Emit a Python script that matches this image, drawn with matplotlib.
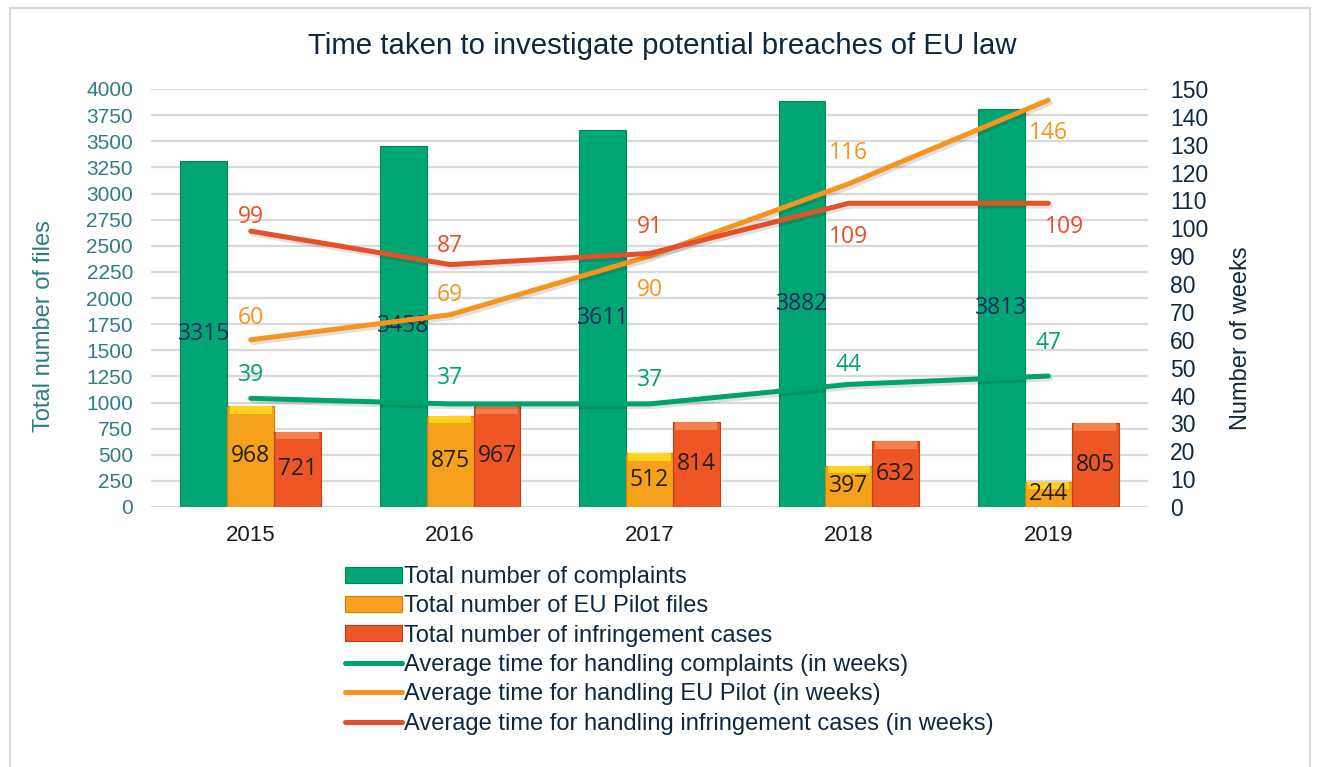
import numpy as np
import matplotlib
matplotlib.use("Agg")
import matplotlib.pyplot as plt
import matplotlib.patheffects as pe
from matplotlib.patches import Rectangle

# data
years = ["2015", "2016", "2017", "2018", "2019"]
complaints = [3315, 3458, 3611, 3882, 3813]
eu_pilot = [968, 875, 512, 397, 244]
infringements = [721, 967, 814, 632, 805]
weeks_complaints = [39, 37, 37, 44, 47]
weeks_pilot = [60, 69, 90, 116, 146]
weeks_infringements = [99, 87, 91, 109, 109]

# label offsets (pixels) relative to each line point: (dx, dy), dy>0 = up
off_complaints = [(0, 23), (0, 26), (0, 24), (0, 19), (0, 33)]
off_pilot = [(0, 22), (0, 20), (0, -34), (0, 31), (0, -33)]
off_infr = [(0, 14), (0, 19), (0, 26), (0, -34), (16, -24)]

navy = "#0E2841"
teal = "#2F7C86"
c_green, c_green_d = "#00A673", "#00875C"
c_orange, c_orange_top = "#F6A11B", "#FFD31E"
c_red, c_red_top = "#EE5623", "#F5804A"
l_green, l_orange, l_red = "#00A36C", "#F7941D", "#E4502A"

plt.rcParams["font.family"] = ["Liberation Sans", "DejaVu Sans"]
lab_font = ["Open Sans", "DejaVu Sans"]

fig = plt.figure(figsize=(13.18, 7.67), dpi=100)
fig.patches.append(Rectangle((10 / 1318, -0.05), 1300 / 1318, 1.05 - 8 / 767,
                             transform=fig.transFigure, fill=False,
                             edgecolor="#d9d9d9", linewidth=1.5))

ax = fig.add_axes([151 / 1318, 1 - 507 / 767, (1148 - 151) / 1318, (507 - 89) / 767])
ax2 = ax.twinx()

x = np.arange(len(years))
w = 0.235

ax.set_ylim(0, 4000)
ax.set_yticks(np.arange(0, 4001, 250))
ax.set_xlim(-0.5, len(years) - 0.5)
ax.grid(axis="y", color="#d9d9d9", linewidth=1.6)
ax.set_axisbelow(True)

cap = 75  # bevel height on the top of the bars, in axis units
b1 = ax.bar(x - w, complaints, w, color=c_green, edgecolor=c_green_d, linewidth=0.8, zorder=2)
b2 = ax.bar(x, eu_pilot, w, color=c_orange, edgecolor="#C9800F", linewidth=0.8, zorder=2)
b3 = ax.bar(x + w, infringements, w, color=c_red, edgecolor="#B8401A", linewidth=0.8, zorder=2)
ax.bar(x, [cap] * len(x), w * 0.9, bottom=np.array(eu_pilot) - cap, color=c_orange_top, zorder=2)
ax.bar(x + w, [cap] * len(x), w * 0.9, bottom=np.array(infringements) - cap, color=c_red_top, zorder=2)

for i in range(len(x)):
    ax.text(x[i] - w, complaints[i] / 2, str(complaints[i]), ha="center", va="center",
            fontsize=16.5, color="#1B2A5C", family=lab_font, zorder=5)
    ax.text(x[i], eu_pilot[i] / 2, str(eu_pilot[i]), ha="center", va="center",
            fontsize=16.5, color="#231F20", family=lab_font, zorder=5)
    ax.text(x[i] + w, infringements[i] / 2, str(infringements[i]), ha="center", va="center",
            fontsize=16.5, color="#231F20", family=lab_font, zorder=5)

ax.tick_params(axis="y", colors=teal, labelsize=15, length=0, pad=13)
ax.tick_params(axis="x", colors="#1a1a1a", labelsize=16, length=0, pad=13)
ax.set_xticks(x)
ax.set_xticklabels(years)
ax.set_ylabel("Total number of files", fontsize=17, color=teal)
ax.yaxis.set_label_coords(-0.096, 0.433)
for s in ax.spines.values():
    s.set_visible(False)

ax2.set_ylim(0, 150)
ax2.set_yticks(np.arange(0, 151, 10))
ax2.tick_params(axis="y", colors=navy, labelsize=16.5, length=0, pad=16)
ax2.set_ylabel("Number of weeks", fontsize=17, color=navy)
ax2.yaxis.set_label_coords(1.082, 0.404)
for s in ax2.spines.values():
    s.set_visible(False)

shadow = [pe.SimpleLineShadow(offset=(1.5, -2), alpha=0.12), pe.Normal()]
l1, = ax2.plot(x, weeks_complaints, color=l_green, linewidth=3.6, solid_capstyle="round",
               path_effects=shadow, zorder=4)
l2, = ax2.plot(x, weeks_pilot, color=l_orange, linewidth=3.6, solid_capstyle="round",
               path_effects=shadow, zorder=4)
l3, = ax2.plot(x, weeks_infringements, color=l_red, linewidth=3.6, solid_capstyle="round",
               path_effects=shadow, zorder=4)

for vals, offs, col in [(weeks_complaints, off_complaints, l_green),
                        (weeks_pilot, off_pilot, l_orange),
                        (weeks_infringements, off_infr, l_red)]:
    for i, v in enumerate(vals):
        dx, dy = offs[i]
        ax2.annotate(str(v), (x[i], v), xytext=(dx * 0.72, dy * 0.72),
                     textcoords="offset points", ha="center", va="center",
                     fontsize=16.5, color=col, family=lab_font, zorder=6)

# legend uses plain line handles (no shadow)
h4, = ax2.plot([], [], color=l_green, linewidth=3.6, solid_capstyle="round")
h5, = ax2.plot([], [], color=l_orange, linewidth=3.6, solid_capstyle="round")
h6, = ax2.plot([], [], color=l_red, linewidth=3.6, solid_capstyle="round")
handles = [b1, b2, b3, h4, h5, h6]
labels = ["Total number of complaints", "Total number of EU Pilot files",
          "Total number of infringement cases",
          "Average time for handling complaints (in weeks)",
          "Average time for handling EU Pilot (in weeks)",
          "Average time for handling infringement cases (in weeks)"]
leg = fig.legend(handles, labels, loc="upper left", bbox_to_anchor=(345 / 1318, 1 - 566 / 767),
                 frameon=False, fontsize=17, handlelength=2.4, handleheight=0.65,
                 handletextpad=0.12, labelspacing=0.31, borderpad=0, borderaxespad=0)
for t in leg.get_texts():
    t.set_color(navy)

fig.text(662 / 1318, 1 - 46 / 767, "Time taken to investigate potential breaches of EU law",
         ha="center", va="center", fontsize=21.2, color=navy)

fig.savefig("out.png", dpi=100)
